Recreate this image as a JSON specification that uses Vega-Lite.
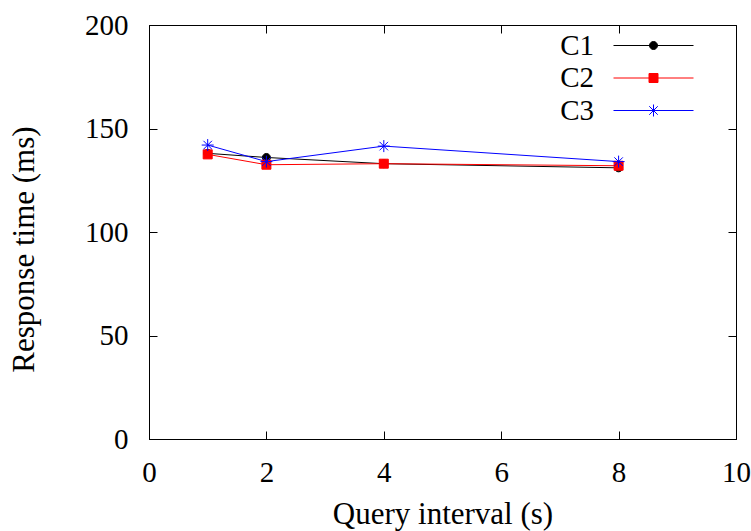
{
  "$schema": "https://vega.github.io/schema/vega-lite/v6.json",
  "width": 587,
  "height": 414,
  "autosize": "none",
  "padding": {"left": 149, "top": 25, "right": 15, "bottom": 92},
  "background": "white",
  "config": {
    "font": "Liberation Serif",
    "view": {"stroke": "black", "strokeWidth": 1},
    "axis": {
      "grid": false,
      "domainColor": "black",
      "domainWidth": 1,
      "tickColor": "black",
      "tickWidth": 1,
      "tickSize": -8,
      "labelFont": "Liberation Serif",
      "labelFontSize": 29,
      "labelColor": "black",
      "titleFont": "Liberation Serif",
      "titleFontSize": 31,
      "titleFontWeight": "normal",
      "titleColor": "black"
    },
    "legend": {
      "labelFont": "Liberation Serif",
      "labelFontSize": 29,
      "labelColor": "black"
    }
  },
  "data": {
    "values": [
      {"series": "C1", "interval": 1, "time": 138},
      {"series": "C1", "interval": 2, "time": 136},
      {"series": "C1", "interval": 4, "time": 133},
      {"series": "C1", "interval": 8, "time": 131},
      {"series": "C2", "interval": 1, "time": 137.5},
      {"series": "C2", "interval": 2, "time": 132.5},
      {"series": "C2", "interval": 4, "time": 133},
      {"series": "C2", "interval": 8, "time": 132},
      {"series": "C3", "interval": 1, "time": 142},
      {"series": "C3", "interval": 2, "time": 134},
      {"series": "C3", "interval": 4, "time": 141.5},
      {"series": "C3", "interval": 8, "time": 134}
    ]
  },
  "layer": [
    {
      "mark": {"type": "line", "strokeWidth": 1},
      "encoding": {
        "x": {
          "field": "interval", "type": "quantitative",
          "scale": {"domain": [0, 10], "nice": false},
          "axis": {"values": [0, 2, 4, 6, 8, 10], "title": "Query interval (s)", "labelFont": "Liberation Serif", "labelFontSize": 29, "labelPadding": 27, "titlePadding": 12, "labelFlush": false}
        },
        "y": {
          "field": "time", "type": "quantitative",
          "scale": {"domain": [0, 200], "nice": false},
          "axis": {"values": [0, 50, 100, 150, 200], "title": "Response time (ms)", "labelFont": "Liberation Serif", "labelFontSize": 29, "labelPadding": 29, "titlePadding": 44, "titleY": 224}
        },
        "stroke": {
          "field": "series", "type": "nominal",
          "scale": {"domain": ["C1", "C2", "C3"], "range": ["#000000", "#ff0000", "#0000ff"]}
        }
      }
    },
    {
      "transform": [{"filter": "datum.series === 'C1'"}],
      "mark": {"type": "point", "filled": true, "strokeWidth": 1, "opacity": 1, "size": 100, "shape": "M-0.8,0A0.8,0.8 0 1,0 0.8,0A0.8,0.8 0 1,0 -0.8,0Z"},
      "encoding": {
        "x": {
          "field": "interval", "type": "quantitative",
          "axis": {"orient": "top", "values": [0, 2, 4, 6, 8, 10], "labels": false, "title": null, "domain": false}
        },
        "y": {
          "field": "time", "type": "quantitative",
          "axis": {"orient": "right", "values": [0, 50, 100, 150, 200], "labels": false, "title": null, "domain": false}
        },
        "fill": {
          "field": "series", "type": "nominal",
          "scale": {"domain": ["C1", "C2", "C3"], "range": ["#000000", "#ff0000", "#0000ff"]}
        },
        "stroke": {"field": "series", "type": "nominal"}
      }
    },
    {
      "transform": [{"filter": "datum.series === 'C2'"}],
      "mark": {"type": "point", "filled": true, "strokeWidth": 1, "opacity": 1, "size": 100, "shape": "M-0.9,-0.9H0.9V0.9H-0.9Z"},
      "encoding": {
        "x": {"field": "interval", "type": "quantitative", "axis": null},
        "y": {"field": "time", "type": "quantitative", "axis": null},
        "fill": {"field": "series", "type": "nominal"},
        "stroke": {"field": "series", "type": "nominal"}
      }
    },
    {
      "transform": [{"filter": "datum.series === 'C3'"}],
      "mark": {"type": "point", "filled": true, "strokeWidth": 1, "opacity": 1, "size": 100, "shape": "M-1.2,0H1.2M0,-1.2V1.2M-0.85,-0.85L0.85,0.85M-0.85,0.85L0.85,-0.85"},
      "encoding": {
        "x": {"field": "interval", "type": "quantitative", "axis": null},
        "y": {"field": "time", "type": "quantitative", "axis": null},
        "fill": {"field": "series", "type": "nominal"},
        "stroke": {"field": "series", "type": "nominal"}
      }
    },
    {
      "mark": {"type": "point", "filled": true, "strokeWidth": 1, "opacity": 0, "size": 100},
      "encoding": {
        "x": {"field": "interval", "type": "quantitative", "axis": null},
        "y": {"field": "time", "type": "quantitative", "axis": null},
        "fill": {
          "field": "series", "type": "nominal",
          "legend": {"title": null, "orient": "none", "legendX": 490, "legendY": 6, "padding": 0, "labelAlign": "right", "labelOffset": -74, "rowPadding": 2.5, "symbolOpacity": 1, "symbolStrokeWidth": 1, "symbolSize": 100}
        },
        "stroke": {
          "field": "series", "type": "nominal",
          "legend": {"title": null, "orient": "none", "legendX": 490, "legendY": 6, "padding": 0, "labelAlign": "right", "labelOffset": -74, "rowPadding": 2.5, "symbolOpacity": 1, "symbolStrokeWidth": 1, "symbolSize": 100}
        },
        "shape": {
          "field": "series", "type": "nominal",
          "scale": {"domain": ["C1", "C2", "C3"], "range": [
            "M-8,0H8M-0.8,0A0.8,0.8 0 1,0 0.8,0A0.8,0.8 0 1,0 -0.8,0Z",
            "M-8,0H8M-0.9,-0.9H0.9V0.9H-0.9Z",
            "M-8,0H8M0,-1.2V1.2M-0.85,-0.85L0.85,0.85M-0.85,0.85L0.85,-0.85"
          ]},
          "legend": {"title": null, "orient": "none", "legendX": 490, "legendY": 6, "padding": 0, "labelAlign": "right", "labelOffset": -74, "rowPadding": 2.5, "symbolOpacity": 1, "symbolStrokeWidth": 1, "symbolSize": 100}
        }
      }
    }
  ],
  "resolve": {
    "axis": {"x": "independent", "y": "independent"}
  }
}
